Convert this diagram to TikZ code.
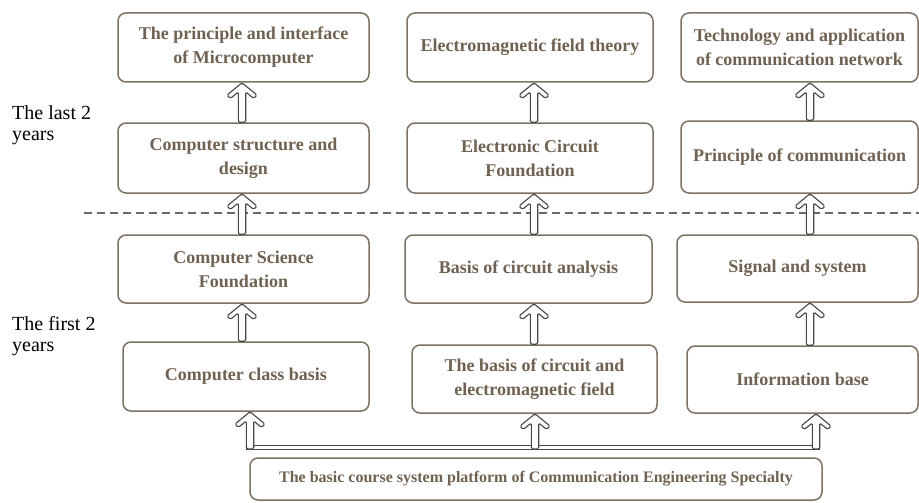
\documentclass[tikz,border=0pt]{standalone}
\usepackage{fontspec}
\setmainfont{Liberation Serif}
\usetikzlibrary{calc}
\definecolor{txtc}{RGB}{112,98,82}
\definecolor{boxc}{RGB}{125,113,100}
\definecolor{arrc}{RGB}{70,70,70}
\definecolor{dashc}{RGB}{105,105,105}
\tikzset{
  coursebox/.style={draw=boxc, line width=1.5pt, rounded corners=8pt, fill=white,
    text=txtc, font=\bfseries\fontsize{18}{24}\selectfont, align=center, inner sep=0pt},
  sidelabel/.style={anchor=north west, align=left, inner sep=0pt, text=black,
    font=\fontsize{20}{21}\selectfont},
  harrow/.style={draw=arrc, fill=white, line width=1.1pt, rounded corners=1.5pt,
    to path={let \p1=(\tikztostart), \p2=(\tikztotarget) in
      (\x2,\y2) -- (\x2+15pt,\y2-12.3pt) -- (\x2+11.7pt,\y2-15.7pt) -- (\x2+3.7pt,\y2-9.2pt)
      -- (\x2+3.7pt,\y1) -- (\x2-3.7pt,\y1) -- (\x2-3.7pt,\y2-9.2pt)
      -- (\x2-11.7pt,\y2-15.7pt) -- (\x2-15pt,\y2-12.3pt) -- cycle}},
  busbar/.style={draw=arrc, fill=white, line width=0.9pt}
}
\begin{document}
\begin{tikzpicture}[x=1pt,y=-1pt]
\useasboundingbox (0,0) rectangle (919,503);
% dashed separator
\coordinate (dl) at (84,213);
\coordinate (dr) at (919,213);
\draw[dashc, line width=1.3pt, dash pattern=on 8pt off 5pt] (dl) -- (dr);
% side labels
\node[sidelabel] (lastlbl) at (12,105) {The last 2\\years};
\node[sidelabel] (firstlbl) at (12,316.5) {The first 2\\years};
% column 1
\node[coursebox, minimum width=251pt, minimum height=69pt] (r1c1) at (243.5,47.5) {The principle and interface\\of Microcomputer};
\node[coursebox, minimum width=251pt, minimum height=70pt] (r2c1) at (243.5,158) {Computer structure and\\design};
\node[coursebox, minimum width=251pt, minimum height=68pt] (r3c1) at (243.5,269) {Computer Science\\Foundation};
\node[coursebox, minimum width=246pt, minimum height=69pt] (r4c1) at (246,376.5) {Computer class basis};
% column 2
\node[coursebox, minimum width=246pt, minimum height=69pt] (r1c2) at (530,47.5) {Electromagnetic field theory};
\node[coursebox, minimum width=246pt, minimum height=70pt] (r2c2) at (530,158) {Electronic Circuit\\Foundation};
\node[coursebox, minimum width=247pt, minimum height=68pt] (r3c2) at (528.5,269) {Basis of circuit analysis};
\node[coursebox, minimum width=245pt, minimum height=68pt] (r4c2) at (534.5,379) {The basis of circuit and\\electromagnetic field};
% column 3
\node[coursebox, minimum width=237pt, minimum height=69pt] (r1c3) at (799.5,47.5) {Technology and application\\of communication network};
\node[coursebox, minimum width=237pt, minimum height=72pt] (r2c3) at (799.5,157) {Principle of communication};
\node[coursebox, minimum width=241pt, minimum height=67pt] (r3c3) at (797.5,268.5) {Signal and system};
\node[coursebox, minimum width=231pt, minimum height=67pt] (r4c3) at (802.5,379.5) {Information base};
% bottom platform
\node[coursebox, minimum width=572pt, minimum height=42pt, font=\bfseries\fontsize{16}{20}\selectfont] (base) at (536,479) {The basic course system platform of Communication Engineering Specialty};
% arrow axes
\coordinate (ax1) at (242,0);
\coordinate (ax2) at (534,0);
\coordinate (ax3) at (810,0);
\coordinate (bx1) at (250,0);
\coordinate (bx2) at (535,0);
\coordinate (bx3) at (816,0);
% vertical arrows
\foreach \c in {1,2,3}{
  \draw[harrow] (r2c\c.north -| ax\c) to (r1c\c.south -| ax\c);
  \draw[harrow] (r3c\c.north -| ax\c) to (r2c\c.south -| ax\c);
  \draw[harrow] (r4c\c.north -| ax\c) to (r3c\c.south -| ax\c);
}
% bus bar
\coordinate (barTL) at (246.3,445.8);
\coordinate (barBR) at (819.7,449);
\draw[busbar] (barTL) rectangle (barBR);
\coordinate (barB) at (0,449);
\foreach \c in {1,2,3}{
  \draw[harrow] (barB -| bx\c) to (r4c\c.south -| bx\c);
}
\end{tikzpicture}
\end{document}
